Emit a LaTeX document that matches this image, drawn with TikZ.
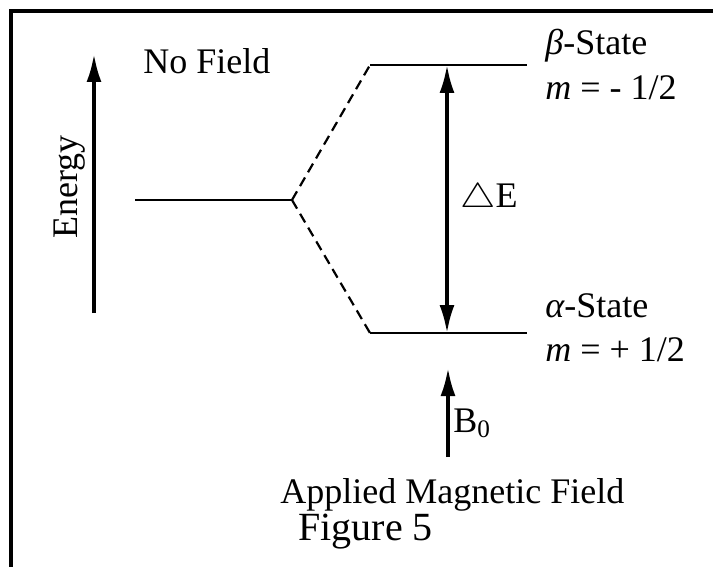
\documentclass[tikz,border=0pt]{standalone}
\usepackage{fontspec}
\setmainfont{Liberation Serif}
\usetikzlibrary{arrows.meta}

\begin{document}
\begin{tikzpicture}[x=0.5pt, y=-0.5pt,
  txt/.style={inner sep=0pt, font=\fontsize{18}{21}\selectfont},
  statebar/.style={line width=1.2pt},
  splitline/.style={line width=1.1pt, dash pattern=on 5pt off 3pt},
  arr/.style={line width=1.7pt, -{Latex[length=14pt,width=7.5pt]}},
  darr/.style={line width=1.6pt, {Latex[length=14pt,width=7.5pt]}-{Latex[length=14pt,width=7.5pt]}}]
\useasboundingbox (0,0) rectangle (713,567);
% frame
\draw[line width=1.8pt] (11,580) -- (11,11) -- (720,11);

% energy axis
\coordinate (ebot) at (94,313);
\coordinate (etop) at (94,54);
\draw[arr] (ebot) -- (etop);
\node[txt, rotate=90, anchor=base] (energy) at (77,187) {Energy};
\node[txt, anchor=base west] (nofield) at (143,74) {No Field};

% levels
\coordinate (free) at (135,200);
\coordinate (split) at (292,200);
\coordinate (betaL) at (370,65);
\coordinate (betaM) at (447,65);
\coordinate (betaR) at (527,65);
\coordinate (alphaL) at (370,333);
\coordinate (alphaM) at (447,333);
\coordinate (alphaR) at (527,333);
\draw[statebar] (free) -- (split);
\draw[statebar] (betaL) -- (betaR);
\draw[statebar] (alphaL) -- (alphaR);
\draw[splitline] (split) -- (betaL);
\draw[splitline] (split) -- (alphaL);

% gap
\draw[darr] (alphaM) -- (betaM);
\node[txt, anchor=base west] (dE) at (460,207) {\scalebox{1.15}[1.0]{$\triangle$}E};

% state labels
\node[txt, anchor=base west] (betalbl) at (545,55) {{\itshape β}-State};
\node[txt, anchor=base west] (betam) at (545,100) {{\itshape m} = - 1/2};
\node[txt, anchor=base west] (alphalbl) at (545,317) {{\itshape α}-State};
\node[txt, anchor=base west] (alpham) at (545,361) {{\itshape m} = + 1/2};

% applied field
\coordinate (bbot) at (448,457);
\coordinate (btop) at (448,368);
\draw[arr] (bbot) -- (btop);
\node[txt, anchor=base west] (bzero) at (453,432) {B\textsubscript{0}};
\node[txt, anchor=base west] (applied) at (280,503) {Applied Magnetic Field};
\node[txt, font=\fontsize{20}{24}\selectfont, anchor=base west] (fig) at (298,540) {Figure 5};
\end{tikzpicture}
\end{document}
